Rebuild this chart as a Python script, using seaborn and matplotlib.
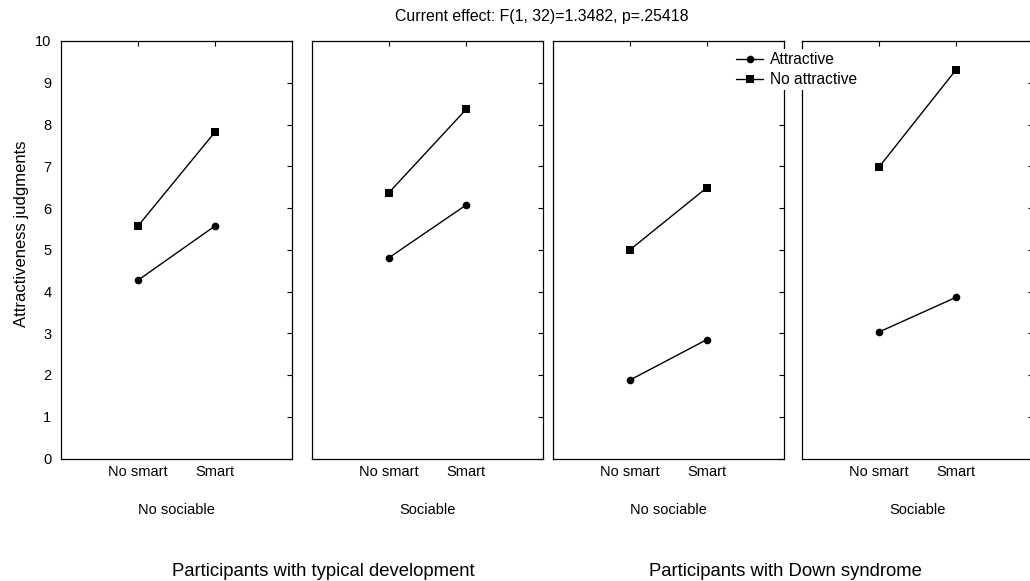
import pandas as pd
import numpy as np
import matplotlib
matplotlib.use("Agg")
import matplotlib.pyplot as plt
import seaborn as sns

# ------------------------------------------
# Data
# ------------------------------------------
smart_levels = ["No smart", "Smart"]
sociable_levels = ["No sociable", "Sociable", "No sociable", "Sociable"]
group_labels = ["Participants with typical development", "Participants with Down syndrome"]
series_names = ["Attractive", "No attractive"]

# one pair (No smart, Smart) per panel
attractive = [[4.27, 5.57], [4.81, 6.07], [1.88, 2.85], [3.03, 3.86]]
no_attractive = [[5.57, 7.82], [6.37, 8.36], [5.00, 6.49], [6.98, 9.31]]

title_text = "Current effect: F(1, 32)=1.3482, p=.25418"
y_label = "Attractiveness judgments"

# ------------------------------------------
# Long table for seaborn
# ------------------------------------------
rows = []
for p in range(4):
    for i, s in enumerate(smart_levels):
        rows.append({"panel": p, "smart": s, "series": series_names[0], "value": attractive[p][i]})
        rows.append({"panel": p, "smart": s, "series": series_names[1], "value": no_attractive[p][i]})
df = pd.DataFrame(rows)

# ------------------------------------------
# Style
# ------------------------------------------
sns.set_theme(style="white")
plt.rcParams["font.family"] = ["Liberation Sans", "DejaVu Sans"]
plt.rcParams["axes.edgecolor"] = "black"
plt.rcParams["axes.labelcolor"] = "black"
plt.rcParams["axes.linewidth"] = 0.9
plt.rcParams["text.color"] = "black"
plt.rcParams["xtick.color"] = "black"
plt.rcParams["ytick.color"] = "black"

W, H = 1030, 581
fig = plt.figure(figsize=(W / 100, H / 100), dpi=100)

lefts = [61, 312, 553, 802]
width = 231
top, bottom = 41, 458.5

markers = {"Attractive": "o", "No attractive": "s"}
palette = {"Attractive": "black", "No attractive": "black"}

axes = []
for p in range(4):
    ax = fig.add_axes([lefts[p] / W, 1 - bottom / H, width / W, (bottom - top) / H])
    sub = df[df["panel"] == p]
    sns.lineplot(
        data=sub, x="smart", y="value", hue="series", style="series",
        markers=markers, dashes=False, palette=palette,
        markersize=5.5, linewidth=1.0, markeredgewidth=0,
        legend=(p == 0), ax=ax,
    )
    ax.set_xlim(-1, 2)
    ax.set_ylim(0, 10)
    ax.set_xticks([0, 1])
    ax.set_xticklabels(smart_levels, fontsize=10.5)
    ax.set_yticks(range(0, 11))
    ax.tick_params(axis="x", which="both", bottom=False, top=True, direction="in",
                   length=3.5, width=0.8, pad=5)
    ax.tick_params(axis="y", which="both", left=False, right=True, direction="in",
                   length=3.5, width=0.8, labelleft=(p == 0), pad=7, labelsize=10.5)
    ax.set_xlabel(sociable_levels[p], fontsize=10.5, labelpad=17)
    ax.set_ylabel("")
    for sp in ax.spines.values():
        sp.set_visible(True)
        sp.set_color("black")
    axes.append(ax)

# legend moved to the figure so it sits over the panel borders
handles, labels = axes[0].get_legend_handles_labels()
axes[0].get_legend().remove()
leg = fig.legend(handles, labels, loc="upper left",
                 bbox_to_anchor=(733 / W, 1 - 49 / H), frameon=True,
                 fontsize=11.2, handlelength=1.75, handletextpad=0.4,
                 borderpad=0.2, labelspacing=0.32, borderaxespad=0)
leg.get_frame().set_facecolor("white")
leg.get_frame().set_edgecolor("none")
leg.get_frame().set_alpha(1)

fig.text(542 / W, 1 - 16 / H, title_text, ha="center", va="center", fontsize=11.4)
fig.text(22 / W, 1 - 234 / H, y_label, ha="center", va="center", rotation=90, fontsize=12)
fig.text(323 / W, 1 - 572 / H, group_labels[0], ha="center", va="center", fontsize=13.3)
fig.text(785 / W, 1 - 572 / H, group_labels[1], ha="center", va="center", fontsize=13.3)

fig.savefig("out.png", dpi=100, facecolor="white")
